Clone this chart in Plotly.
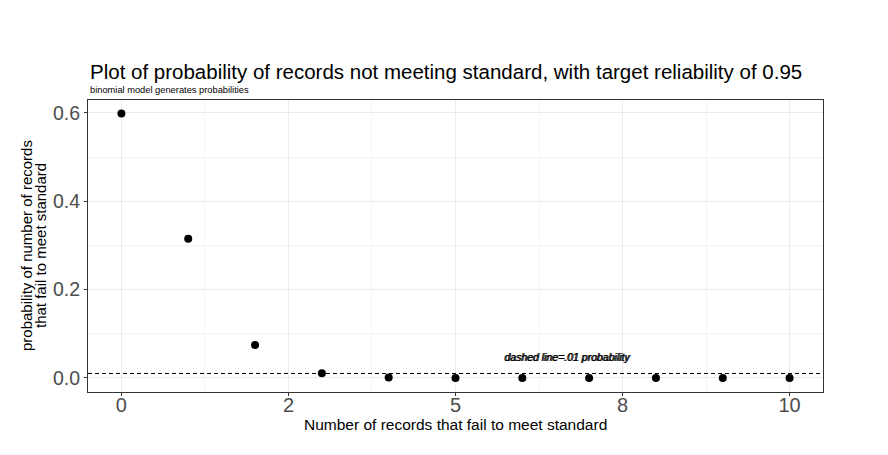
import plotly.graph_objects as go

# nombre d'enregistrements en echec (0..10) et probabilites binomiales lues
failures = [0, 1, 2, 3, 4, 5, 6, 7, 8, 9, 10]
probability = [0.5987, 0.3151, 0.0746, 0.0105, 0.0010, 0.0001, 0.0, 0.0, 0.0, 0.0, 0.0]

x_tick_vals = [0, 2.5, 5, 7.5, 10]
x_tick_text = ["0", "2", "5", "8", "10"]
y_tick_vals = [0.0, 0.2, 0.4, 0.6]
y_tick_text = ["0.0", "0.2", "0.4", "0.6"]

threshold = 0.01
note_text = "dashed line=.01 probability"
note_x = 6.67
note_y = 0.047

fig = go.Figure()

fig.add_trace(go.Scatter(
    x=failures, y=probability, mode="markers",
    marker=dict(color="black", size=8),
    showlegend=False, hoverinfo="x+y"
))

# ligne pointillee a 0.01
fig.add_hline(y=threshold, line=dict(color="black", width=1.1, dash="4px,3px"))

# texte superpose (effet gras comme dans l'original)
for dx in (0, 1):
    fig.add_annotation(
        x=note_x, y=note_y, text=f"<i>{note_text}</i>", showarrow=False,
        xshift=dx, font=dict(family="Liberation Sans, Arial", size=10.5, color="black")
    )

# titres
fig.add_annotation(
    x=0, y=1.096, xref="paper", yref="paper", xanchor="left", yanchor="middle",
    text="Plot of probability of records not meeting standard, with target reliability of 0.95",
    showarrow=False, font=dict(size=20.5, color="black")
)
fig.add_annotation(
    x=0, y=1.034, xref="paper", yref="paper", xanchor="left", yanchor="middle",
    text="binomial model generates probabilities",
    showarrow=False, font=dict(size=9.3, color="black")
)
fig.add_annotation(
    x=0.5, y=-0.11, xref="paper", yref="paper", xanchor="center", yanchor="middle",
    text="Number of records that fail to meet standard",
    showarrow=False, font=dict(size=15.5, color="black")
)
# titre de l'axe y sur deux lignes, interligne serre
for line, xpos in (("probability of number of records", -0.0843),
                   ("that fail to meet standard", -0.0653)):
    fig.add_annotation(
        x=xpos, y=0.5, xref="paper", yref="paper", xanchor="center", yanchor="middle",
        text=line, textangle=-90,
        showarrow=False, font=dict(size=15, color="black")
    )

grid_major = "#ebebeb"
grid_minor = "#f4f4f4"

fig.update_xaxes(
    range=[-0.5, 10.5], tickvals=x_tick_vals, ticktext=x_tick_text,
    showgrid=True, gridcolor=grid_major, gridwidth=1,
    minor=dict(tickvals=[1.25, 3.75, 6.25, 8.75], showgrid=True, gridcolor=grid_minor, gridwidth=0.5),
    zeroline=False, ticks="outside", ticklen=3, tickcolor="#333333",
    tickfont=dict(size=20, color="#4d4d4d"), ticklabelstandoff=-8,
    showline=True, linecolor="#333333", linewidth=1, mirror=True
)
fig.update_yaxes(
    range=[-0.0317, 0.629], tickvals=y_tick_vals, ticktext=y_tick_text,
    showgrid=True, gridcolor=grid_major, gridwidth=1,
    minor=dict(tickvals=[0.1, 0.3, 0.5], showgrid=True, gridcolor=grid_minor, gridwidth=0.5),
    zeroline=False, ticks="outside", ticklen=3, tickcolor="#333333",
    tickfont=dict(size=19.5, color="#4d4d4d"),
    showline=True, linecolor="#333333", linewidth=1, mirror=True
)

fig.update_layout(
    width=880, height=447,
    margin=dict(l=80, r=65, t=92, b=63),
    plot_bgcolor="white", paper_bgcolor="white",
    font=dict(family="Liberation Sans, Arial, sans-serif")
)

fig.write_html("out.html")
